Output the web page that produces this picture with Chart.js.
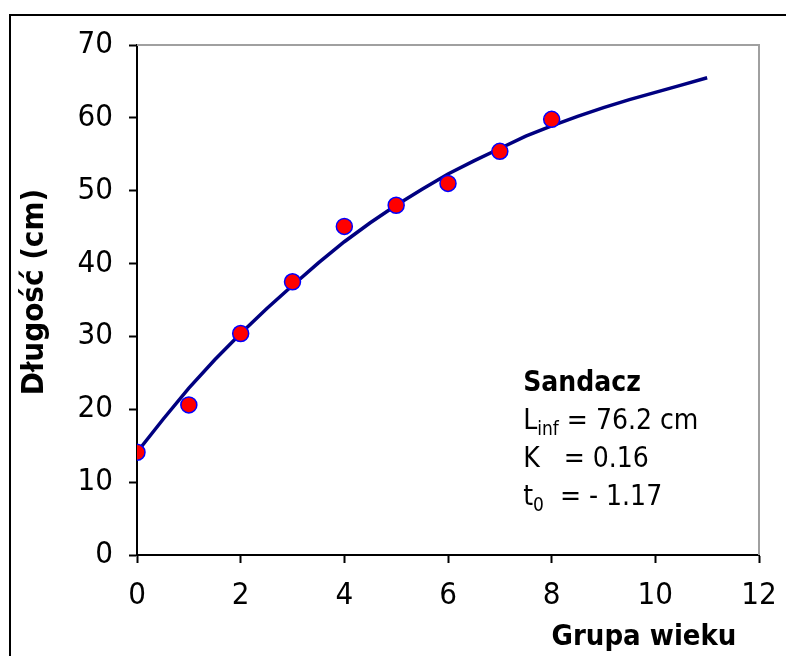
<!DOCTYPE html>
<html>
<head>
<meta charset="utf-8">
<script src="https://cdn.jsdelivr.net/npm/chart.js@4/dist/chart.umd.min.js"></script>
<style>
    html, body { margin: 0; padding: 0; background: #fff; }
    #wrap { width: 786px; height: 656px; }
</style>
</head>
<body>
<div id="wrap"><canvas id="growthChart" width="786" height="656"></canvas></div>
<script>
    // dane - grupy wieku i średnie długości
    var ageGroups = [0, 1, 2, 3, 4, 5, 6, 7, 8];
    var lengthObs = [14.1, 20.6, 30.4, 37.5, 45.1, 48.0, 51.0, 55.4, 59.8];

    // krzywa wzrostu (punkty co 0.5 roku)
    var curveAge = [0, 0.5, 1, 1.5, 2, 2.5, 3, 3.5, 4, 4.5, 5, 5.5, 6, 6.5, 7, 7.5, 8, 8.5, 9, 9.5, 10, 10.5, 11];
    var curveLen = [14.1, 18.6, 22.9, 26.8, 30.4, 33.8, 37.0, 40.1, 43.0, 45.6, 48.0, 50.2, 52.3, 54.1, 55.8, 57.5, 58.9, 60.2, 61.4, 62.5, 63.5, 64.5, 65.5];

    var xTicks = [0, 2, 4, 6, 8, 10, 12];
    var yTicks = [0, 10, 20, 30, 40, 50, 60, 70];

    var annoTitle = "Sandacz";
    var annoLines = [
        ["L", "inf", " = 76.2 cm"],
        ["K", "", "   = 0.16"],
        ["t", "0", "  = - 1.17"]
    ];

    var FONT = "'DejaVu Sans Condensed', 'DejaVu Sans', sans-serif";

    function toXY(xs, ys) {
        var out = [];
        for (var i = 0; i < xs.length; i++) {
            out.push({ x: xs[i], y: ys[i] });
        }
        return out;
    }

    // ramka, obrys obszaru wykresu, podpisy osi i opis
    var framePlugin = {
        id: 'framePlugin',
        beforeDraw: function (chart) {
            var ctx = chart.ctx;
            ctx.save();
            ctx.fillStyle = '#fff';
            ctx.fillRect(0, 0, chart.width, chart.height);
            ctx.strokeStyle = '#000';
            ctx.lineWidth = 2;
            ctx.strokeRect(10, 15, 900, 800);
            ctx.restore();
        },
        beforeDatasetsDraw: function (chart) {
            var a = chart.chartArea;
            var ctx = chart.ctx;
            ctx.save();
            ctx.strokeStyle = '#a0a0a0';
            ctx.lineWidth = 2;
            ctx.beginPath();
            ctx.moveTo(a.left, a.top);
            ctx.lineTo(a.right, a.top);
            ctx.lineTo(a.right, a.bottom);
            ctx.stroke();
            ctx.restore();
        },
        afterDraw: function (chart) {
            var ctx = chart.ctx;
            var xs = chart.scales.x;
            var ys = chart.scales.y;
            ctx.save();
            ctx.fillStyle = '#000';

            // tytuł osi X
            ctx.font = "bold 29px " + FONT;
            ctx.textAlign = 'center';
            ctx.textBaseline = 'middle';
            ctx.fillText("Grupa wieku", 644, 637);

            // tytuł osi Y
            ctx.save();
            ctx.translate(35, 292);
            ctx.rotate(-Math.PI / 2);
            ctx.font = "bold 31px " + FONT;
            ctx.fillText("Długość (cm)", 0, 0);
            ctx.restore();

            // opis parametrów
            var x0 = xs.getPixelForValue(7.45);
            var y0 = ys.getPixelForValue(23.5);
            ctx.textAlign = 'left';
            ctx.textBaseline = 'middle';
            ctx.font = "bold 28px " + FONT;
            ctx.fillText(annoTitle, x0, y0);
            for (var i = 0; i < annoLines.length; i++) {
                var yy = y0 + 38 * (i + 1);
                var p = annoLines[i];
                ctx.font = "28px " + FONT;
                ctx.fillText(p[0], x0, yy);
                var w = ctx.measureText(p[0]).width;
                if (p[1]) {
                    ctx.font = "19px " + FONT;
                    ctx.fillText(p[1], x0 + w, yy + 8);
                    w += ctx.measureText(p[1]).width;
                }
                ctx.font = "28px " + FONT;
                ctx.fillText(p[2], x0 + w, yy);
            }
            ctx.restore();
        }
    };

    var ctx = document.getElementById("growthChart").getContext('2d');
    var chart = new Chart(ctx, {
        type: 'scatter',
        data: {
            datasets: [{
                label: 'obserwacje',
                data: toXY(ageGroups, lengthObs),
                backgroundColor: '#ff0000',
                borderColor: '#0000ff',
                borderWidth: 1.5,
                pointRadius: 8,
                pointHoverRadius: 8,
                showLine: false
            }, {
                label: 'krzywa',
                data: toXY(curveAge, curveLen),
                borderColor: '#000080',
                borderWidth: 3.5,
                pointRadius: 0,
                showLine: true,
                tension: 0
            }]
        },
        plugins: [framePlugin],
        options: {
            responsive: false,
            animation: false,
            layout: { padding: { top: 45, right: 27, left: 0, bottom: 0 } },
            plugins: {
                legend: { display: false },
                tooltip: { enabled: false }
            },
            scales: {
                x: {
                    type: 'linear',
                    min: 0,
                    max: 12,
                    afterBuildTicks: function (scale) {
                        scale.ticks = xTicks.map(function (v) { return { value: v }; });
                    },
                    afterFit: function (scale) {
                        scale.height = 101;
                        scale.paddingLeft = 0;
                        scale.paddingRight = 0;
                    },
                    grid: {
                        drawOnChartArea: false,
                        drawTicks: true,
                        tickLength: 8,
                        tickColor: '#000',
                        tickWidth: 2
                    },
                    border: { display: true, color: '#000', width: 2 },
                    ticks: {
                        color: '#000',
                        padding: 14,
                        maxRotation: 0,
                        font: { family: FONT, size: 31 }
                    }
                },
                y: {
                    type: 'linear',
                    min: 0,
                    max: 70,
                    afterBuildTicks: function (scale) {
                        scale.ticks = yTicks.map(function (v) { return { value: v }; });
                    },
                    afterFit: function (scale) {
                        scale.width = 137;
                        scale.paddingTop = 0;
                        scale.paddingBottom = 0;
                    },
                    grid: {
                        drawOnChartArea: false,
                        drawTicks: true,
                        tickLength: 8,
                        tickColor: '#000',
                        tickWidth: 2
                    },
                    border: { display: true, color: '#000', width: 2 },
                    ticks: {
                        color: '#000',
                        padding: 16,
                        font: { family: FONT, size: 31 }
                    }
                }
            }
        }
    });
</script>
</body>
</html>
